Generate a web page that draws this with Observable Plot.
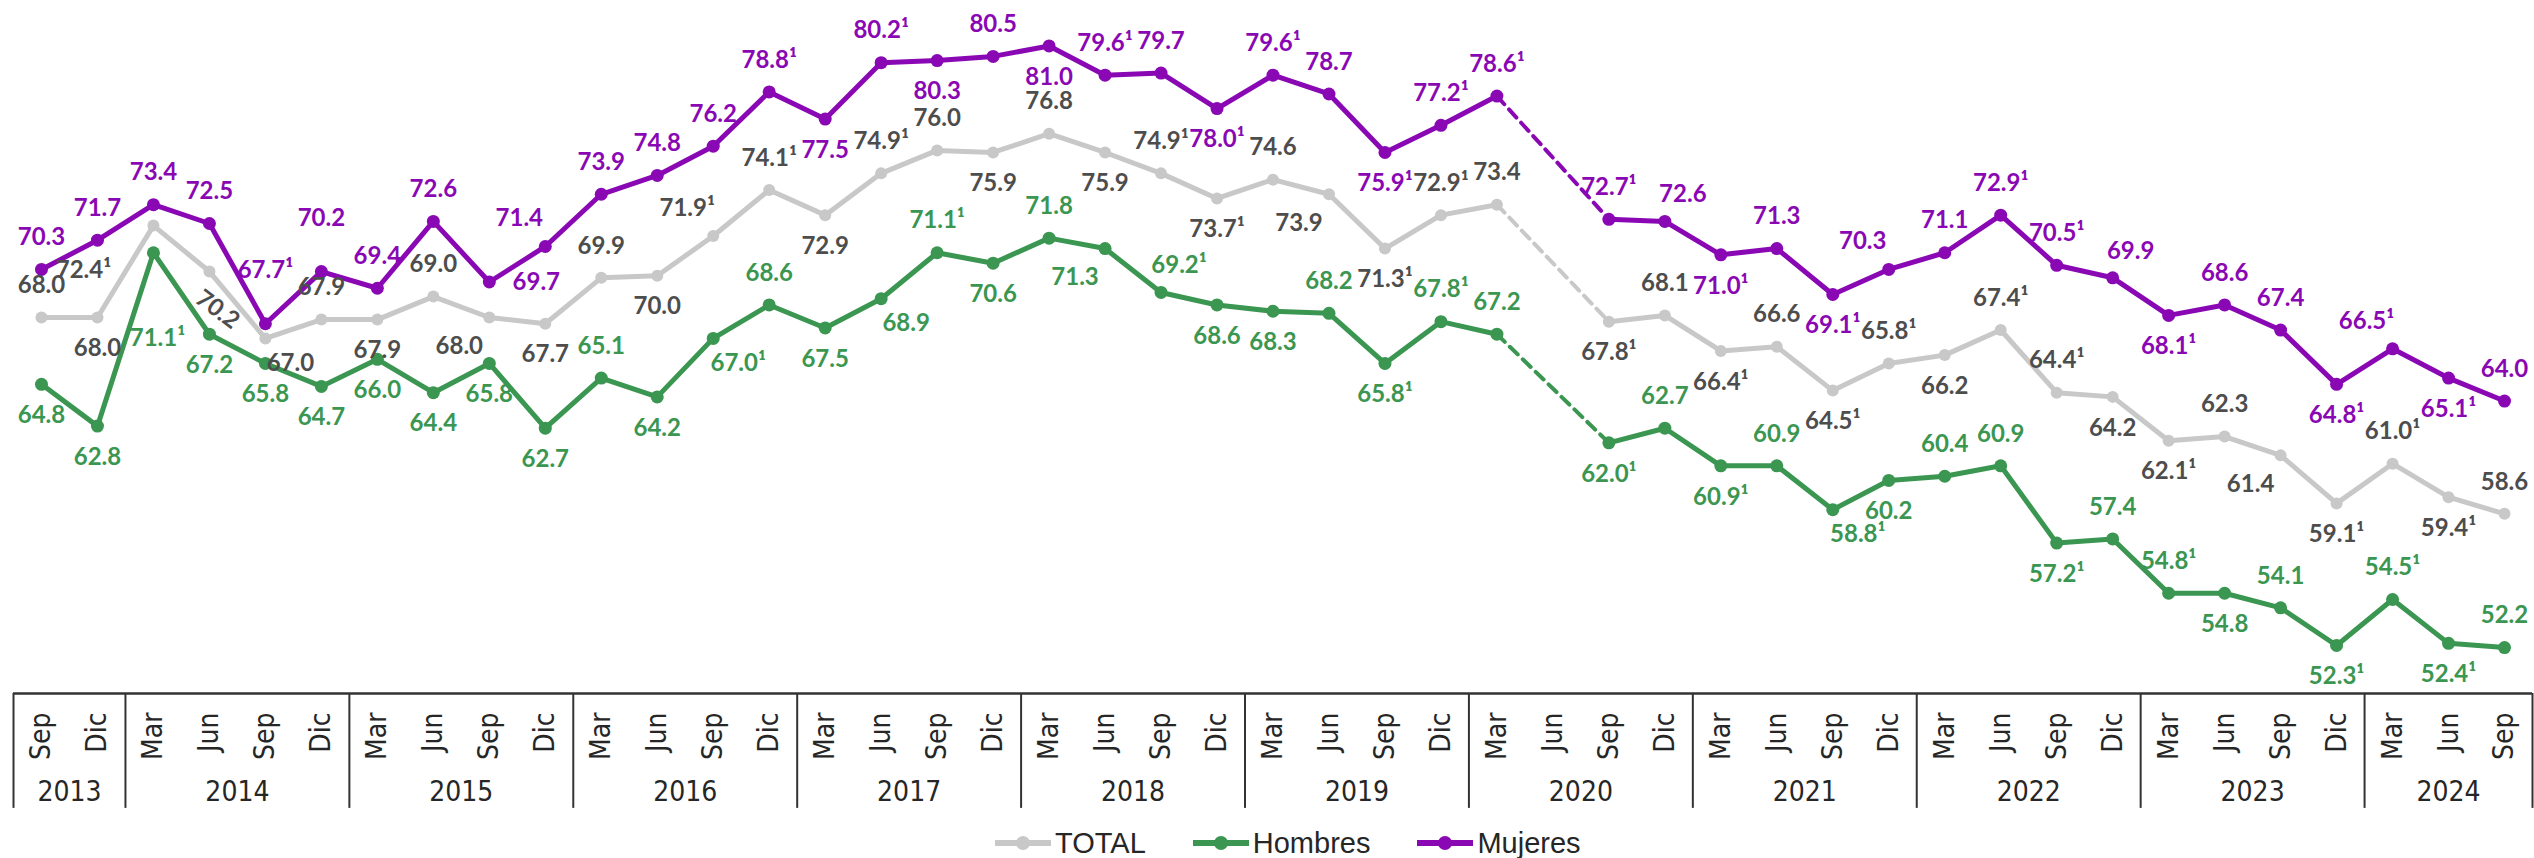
<!DOCTYPE html>
<html>
<head>
<meta charset="utf-8">
<script src="https://cdn.jsdelivr.net/npm/d3@7"></script>
<script src="https://cdn.jsdelivr.net/npm/@observablehq/plot@0.6"></script>
<style>
  html, body { margin: 0; padding: 0; background: #fff; }
  #legend { display: flex; align-items: center; height: 30px; margin-left: 995px;
            font-family: "Liberation Sans", Arial, sans-serif;
            font-size: 29px; color: #262626; }
  #legend .item { display: flex; align-items: center; margin-right: 47px; }
  #legend .item svg { margin-right: 4px; }
</style>
</head>
<body>
<div id="chart"></div>
<div id="legend"></div>
<script>
// ---- categories ----
const months = ["Sep","Dic",
  "Mar","Jun","Sep","Dic", "Mar","Jun","Sep","Dic", "Mar","Jun","Sep","Dic",
  "Mar","Jun","Sep","Dic", "Mar","Jun","Sep","Dic", "Mar","Jun","Sep","Dic",
  "Mar","Jun","Sep","Dic", "Mar","Jun","Sep","Dic", "Mar","Jun","Sep","Dic",
  "Mar","Jun","Sep","Dic", "Mar","Jun","Sep"];
const years = [2013,2013,
  2014,2014,2014,2014, 2015,2015,2015,2015, 2016,2016,2016,2016,
  2017,2017,2017,2017, 2018,2018,2018,2018, 2019,2019,2019,2019,
  2020,2020,2020,2020, 2021,2021,2021,2021, 2022,2022,2022,2022,
  2023,2023,2023,2023, 2024,2024,2024];

// ---- series values (null = no data, Jun 2020) ----
const total = [68.0,68.0,72.4,70.2,67.0,67.9,67.9,69.0,68.0,67.7,
  69.9,70.0,71.9,74.1,72.9,74.9,76.0,75.9,76.8,75.9,
  74.9,73.7,74.6,73.9,71.3,72.9,73.4,null,67.8,68.1,
  66.4,66.6,64.5,65.8,66.2,67.4,64.4,64.2,62.1,62.3,
  61.4,59.1,61.0,59.4,58.6];
const hombres = [64.8,62.8,71.1,67.2,65.8,64.7,66.0,64.4,65.8,62.7,
  65.1,64.2,67.0,68.6,67.5,68.9,71.1,70.6,71.8,71.3,
  69.2,68.6,68.3,68.2,65.8,67.8,67.2,null,62.0,62.7,
  60.9,60.9,58.8,60.2,60.4,60.9,57.2,57.4,54.8,54.8,
  54.1,52.3,54.5,52.4,52.2];
const mujeres = [70.3,71.7,73.4,72.5,67.7,70.2,69.4,72.6,69.7,71.4,
  73.9,74.8,76.2,78.8,77.5,80.2,80.3,80.5,81.0,79.6,
  79.7,78.0,79.6,78.7,75.9,77.2,78.6,null,72.7,72.6,
  71.0,71.3,69.1,70.3,71.1,72.9,70.5,69.9,68.1,68.6,
  67.4,64.8,66.5,65.1,64.0];

// periods whose label carries the footnote mark ¹
const totalNotes = [2,12,13,15,20,21,24,25,28,30,32,33,35,36,38,41,42,43];
const hombresNotes = [2,12,16,20,24,25,28,30,32,36,38,41,42,43];
const mujeresNotes = [4,13,15,19,21,22,24,25,26,28,30,32,35,36,38,41,42,43];

// label placement codes per period
const totalPos = ["t","b","BL","rot","br","t","b","t","bl","b",
  "t","b","tl","t","b","t","t","b","t","b",
  "t","b","t","bl","b","t","t","-","b","t",
  "b","t","b","t","b","t","t","b","b","t",
  "bl","b","t","b","t"];
const hombresPos = ["b","b","B2","b","b","b","b","b","b","b",
  "t","b","br","t","b","br","t","b","t","bl",
  "tr","b","b","t","b","t","t","-","b","t",
  "b","t","br","b","t","t","b","t","t","b",
  "t","b","t","b","t"];
const mujeresPos = ["t","t","t","t","T","T","t","t","r","tl",
  "t","t","t","t","b","t","b","t","b","t",
  "t","b","t","t","b","t","t","-","t","tr",
  "b","t","b","tl","t","t","t","tr","b","t",
  "t","b","tl","b","t"];

// ---- styling ----
const offsets = {
  t: {dx: 0, dy: -32}, T: {dx: 0, dy: -53}, b: {dx: 0, dy: 31},
  tl: {dx: -26, dy: -28}, tr: {dx: 18, dy: -27}, bl: {dx: -30, dy: 29}, br: {dx: 25, dy: 25},
  r: {dx: 47, dy: 0}, BL: {dx: -70, dy: 45}, B2: {dx: 4, dy: 86}, rot: {dx: 8, dy: 38, rotate: 37}
};
const labelFont = "Lato, 'Open Sans', sans-serif";
const axisFont = "'Liberation Sans Narrow', 'Arial Narrow', 'DejaVu Sans Condensed', sans-serif";
const series = [
  {name: "TOTAL", values: total, notes: totalNotes, pos: totalPos, line: "#C8C8C8", label: "#4D4D4D", r: 6},
  {name: "Hombres", values: hombres, notes: hombresNotes, pos: hombresPos, line: "#3A9651", label: "#3A9651", r: 6.5},
  {name: "Mujeres", values: mujeres, notes: mujeresNotes, pos: mujeresPos, line: "#8908B4", label: "#8908B4", r: 6.5}
];

const idx = d3.range(months.length);
const yearGroups = d3.groups(idx, i => years[i]);
const yearCenters = yearGroups.map(([y, is]) => ({year: String(y), x: (is[0] + is[is.length - 1]) / 2}));
const boundaries = [-0.5, ...yearGroups.map(([y, is]) => is[is.length - 1] + 0.5)];

const marks = [
  Plot.ruleY([50], {stroke: "#333", strokeWidth: 2.5}),
  Plot.ruleX(boundaries, {x: d => d, y1: 50, y2: 44.5, stroke: "#333", strokeWidth: 2}),
  Plot.text(idx, {x: i => i, y: () => 50, text: i => months[i], rotate: -90, textAnchor: "end",
    dy: 19, fontSize: 28, fontFamily: axisFont, fill: "#262626"}),
  Plot.text(yearCenters, {x: "x", y: () => 50, text: "year", dy: 99, fontSize: 28,
    fontFamily: axisFont, fill: "#262626"})
];

for (const s of series) {
  const defined = idx.filter(i => s.values[i] != null);
  marks.push(Plot.line(idx, {x: i => i, y: i => s.values[i], stroke: s.line, strokeWidth: 5}));
  marks.push(Plot.line([26, 28], {x: i => i, y: i => s.values[i], stroke: s.line, strokeWidth: 4,
    strokeDasharray: "11,7"}));
  marks.push(Plot.dot(defined, {x: i => i, y: i => s.values[i], r: s.r, fill: s.line, stroke: "none"}));
}
for (const s of series) {
  for (const [code, o] of Object.entries(offsets)) {
    const pts = idx.filter(i => s.values[i] != null && s.pos[i] === code);
    if (!pts.length) continue;
    marks.push(Plot.text(pts, {
      x: i => i, y: i => s.values[i],
      text: i => s.values[i].toFixed(1) + (s.notes.includes(i) ? "¹" : ""),
      dx: o.dx, dy: o.dy, rotate: o.rotate || 0,
      fontSize: 24, fontWeight: "bold", fontFamily: labelFont, fill: s.label
    }));
  }
}

const chart = Plot.plot({
  width: 2534, height: 828,
  marginLeft: 13, marginRight: 2, marginTop: 2, marginBottom: 135,
  x: {type: "linear", domain: [-0.5, months.length - 0.5], axis: null},
  y: {domain: [50, 83.08], axis: null},
  style: {background: "#fff", overflow: "visible"},
  marks
});
document.getElementById("chart").appendChild(chart);

// legend
const legend = document.getElementById("legend");
for (const s of series) {
  const item = document.createElement("div");
  item.className = "item";
  item.innerHTML = `<svg width="56" height="20"><line x1="0" x2="56" y1="10" y2="10" stroke="${s.line}" stroke-width="6"/><circle cx="28" cy="10" r="7" fill="${s.line}"/></svg><span>${s.name}</span>`;
  legend.appendChild(item);
}
</script>
</body>
</html>
